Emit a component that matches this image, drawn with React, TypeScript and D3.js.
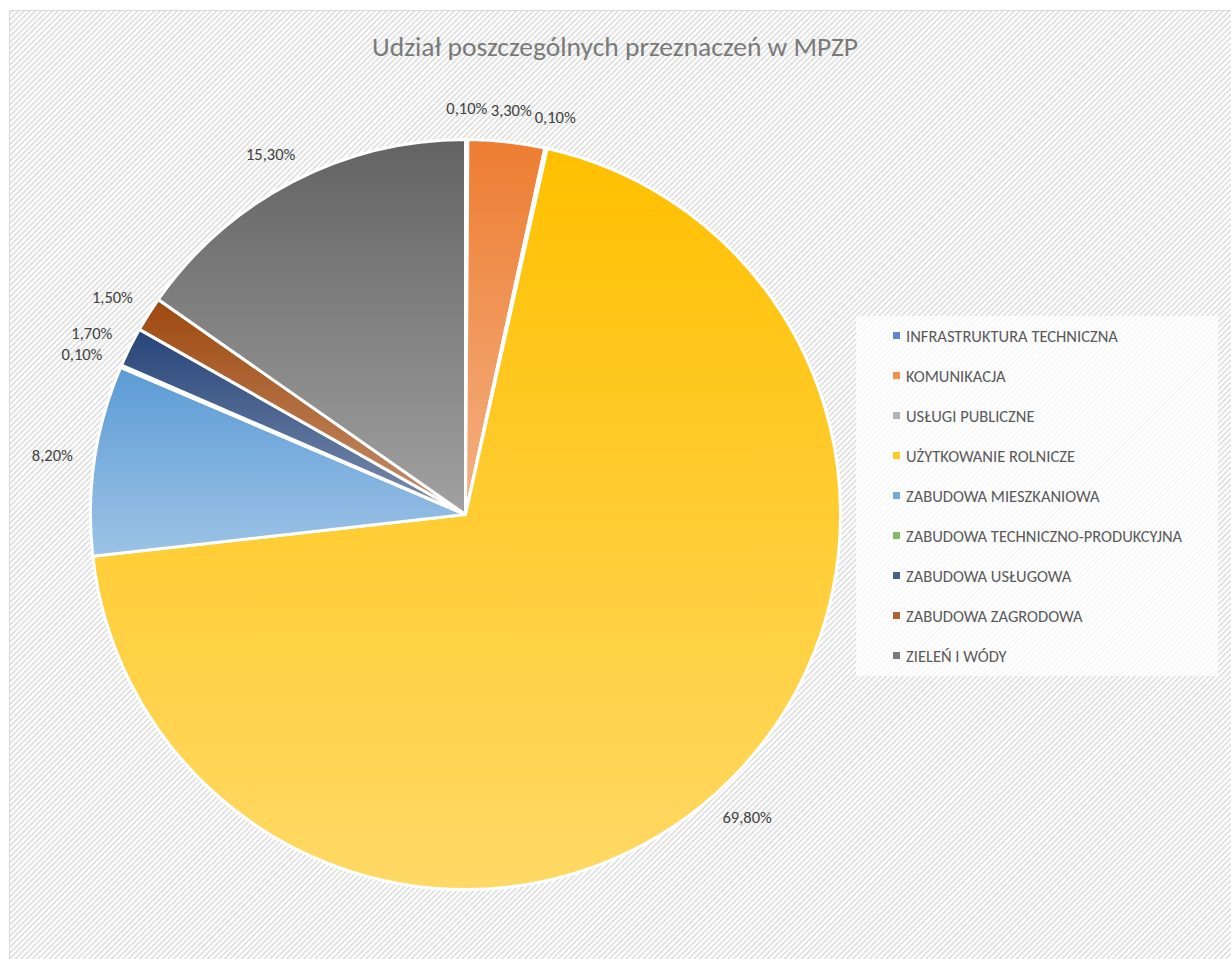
import { useEffect, useRef } from 'react';
import * as d3 from 'd3';

const categories = [
	'INFRASTRUKTURA TECHNICZNA',
	'KOMUNIKACJA',
	'USŁUGI PUBLICZNE',
	'UŻYTKOWANIE ROLNICZE',
	'ZABUDOWA MIESZKANIOWA',
	'ZABUDOWA TECHNICZNO-PRODUKCYJNA',
	'ZABUDOWA USŁUGOWA',
	'ZABUDOWA ZAGRODOWA',
	'ZIELEŃ I WÓDY',
];
const shares = [0.1, 3.3, 0.1, 69.8, 8.2, 0.1, 1.7, 1.5, 15.3];
const labels = ['0,10%', '3,30%', '0,10%', '69,80%', '8,20%', '0,10%', '1,70%', '1,50%', '15,30%'];
const colors = ['#4472C4', '#ED7D31', '#A5A5A5', '#FFC000', '#5B9BD5', '#70AD47', '#264478', '#9E480E', '#636363'];

const title = 'Udział poszczególnych przeznaczeń w MPZP';

export default function App() {
	const ref = useRef<SVGSVGElement | null>(null);

	useEffect(() => {
		if (!ref.current) return;
		const svg = d3.select(ref.current);
		svg.selectAll('*').remove();

		const W = 1231;
		const H = 959;
		const cx = 465.5;
		const cy = 514.5;
		const r = 375;
		const font = 'Carlito, Calibri, "Open Sans", sans-serif';

		const defs = svg.append('defs');

		// hatched chart background
		const pat = defs
			.append('pattern')
			.attr('id', 'hatch')
			.attr('patternUnits', 'userSpaceOnUse')
			.attr('width', 4)
			.attr('height', 4)
			.attr('patternTransform', 'rotate(45)');
		pat.append('rect').attr('width', 4).attr('height', 4).attr('fill', '#ffffff');
		pat.append('rect').attr('width', 1.6).attr('height', 4).attr('fill', '#dcdcdc');

		colors.forEach((c, i) => {
			const g = defs
				.append('linearGradient')
				.attr('id', `grad${i}`)
				.attr('x1', 0)
				.attr('y1', 0)
				.attr('x2', 0)
				.attr('y2', 1);
			g.append('stop').attr('offset', '0%').attr('stop-color', c);
			g.append('stop').attr('offset', '100%').attr('stop-color', d3.interpolateRgb(c, '#ffffff')(0.4));
		});

		svg.append('rect').attr('width', W).attr('height', H).attr('fill', '#ffffff');
		svg
			.append('rect')
			.attr('x', 9.5)
			.attr('y', 10.5)
			.attr('width', W + 20)
			.attr('height', H + 20)
			.attr('fill', 'url(#hatch)')
			.attr('stroke', '#d9d9d9')
			.attr('stroke-width', 1);

		svg
			.append('text')
			.attr('x', 615)
			.attr('y', 56)
			.attr('text-anchor', 'middle')
			.attr('font-family', font)
			.attr('font-size', 26)
			.attr('fill', '#7a7a7a')
			.attr('textLength', 486)
			.attr('lengthAdjust', 'spacingAndGlyphs')
			.text(title);

		const pie = d3
			.pie<number>()
			.sort(null)
			.value(d => d);
		const arcs = pie(shares);
		const arc = d3.arc<d3.PieArcDatum<number>>().innerRadius(0).outerRadius(r);

		const g = svg.append('g').attr('transform', `translate(${cx},${cy})`);
		g.selectAll('path')
			.data(arcs)
			.join('path')
			.attr('d', arc)
			.attr('fill', (_, i) => `url(#grad${i})`)
			.attr('stroke', '#ffffff')
			.attr('stroke-width', 3)
			.attr('stroke-linejoin', 'round');

		// data labels outside the pie
		const lab = svg.append('g').attr('font-family', font).attr('font-size', 16.5).attr('fill', '#404040');
		arcs.forEach((a, i) => {
			const mid = (a.startAngle + a.endAngle) / 2;
			const sx = Math.sin(mid);
			const sy = -Math.cos(mid);
			const t = lab
				.append('text')
				.attr('text-anchor', 'middle')
				.attr('dominant-baseline', 'central')
				.text(labels[i]);
			const bb = (t.node() as SVGTextElement).getBBox();
			const off = r + 22;
			const x = cx + off * sx + (bb.width / 2) * sx;
			const y = cy + off * sy + (bb.height / 2) * sy;
			t.attr('x', x).attr('y', y);
		});

		// legend
		const lg = svg.append('g').attr('transform', 'translate(856,316)');
		lg.append('rect').attr('width', 362).attr('height', 360).attr('fill', '#ffffff').attr('fill-opacity', 0.75);
		const items = lg
			.selectAll('g')
			.data(categories)
			.join('g')
			.attr('transform', (_, i) => `translate(0,${20 + i * 40})`);
		items
			.append('rect')
			.attr('x', 37)
			.attr('y', -4)
			.attr('width', 7)
			.attr('height', 7)
			.attr('fill', (_, i) => d3.interpolateRgb(colors[i], '#ffffff')(0.15));
		items
			.append('text')
			.attr('x', 50)
			.attr('y', 0)
			.attr('dominant-baseline', 'central')
			.attr('font-family', font)
			.attr('font-size', 16.5)
			.attr('fill', '#595959')
			.text(d => d);
	}, []);

	return (
		<svg
			ref={ref}
			width={1231}
			height={959}
			style={{ position: 'absolute', left: 0, top: 0, display: 'block' }}
		/>
	);
}
